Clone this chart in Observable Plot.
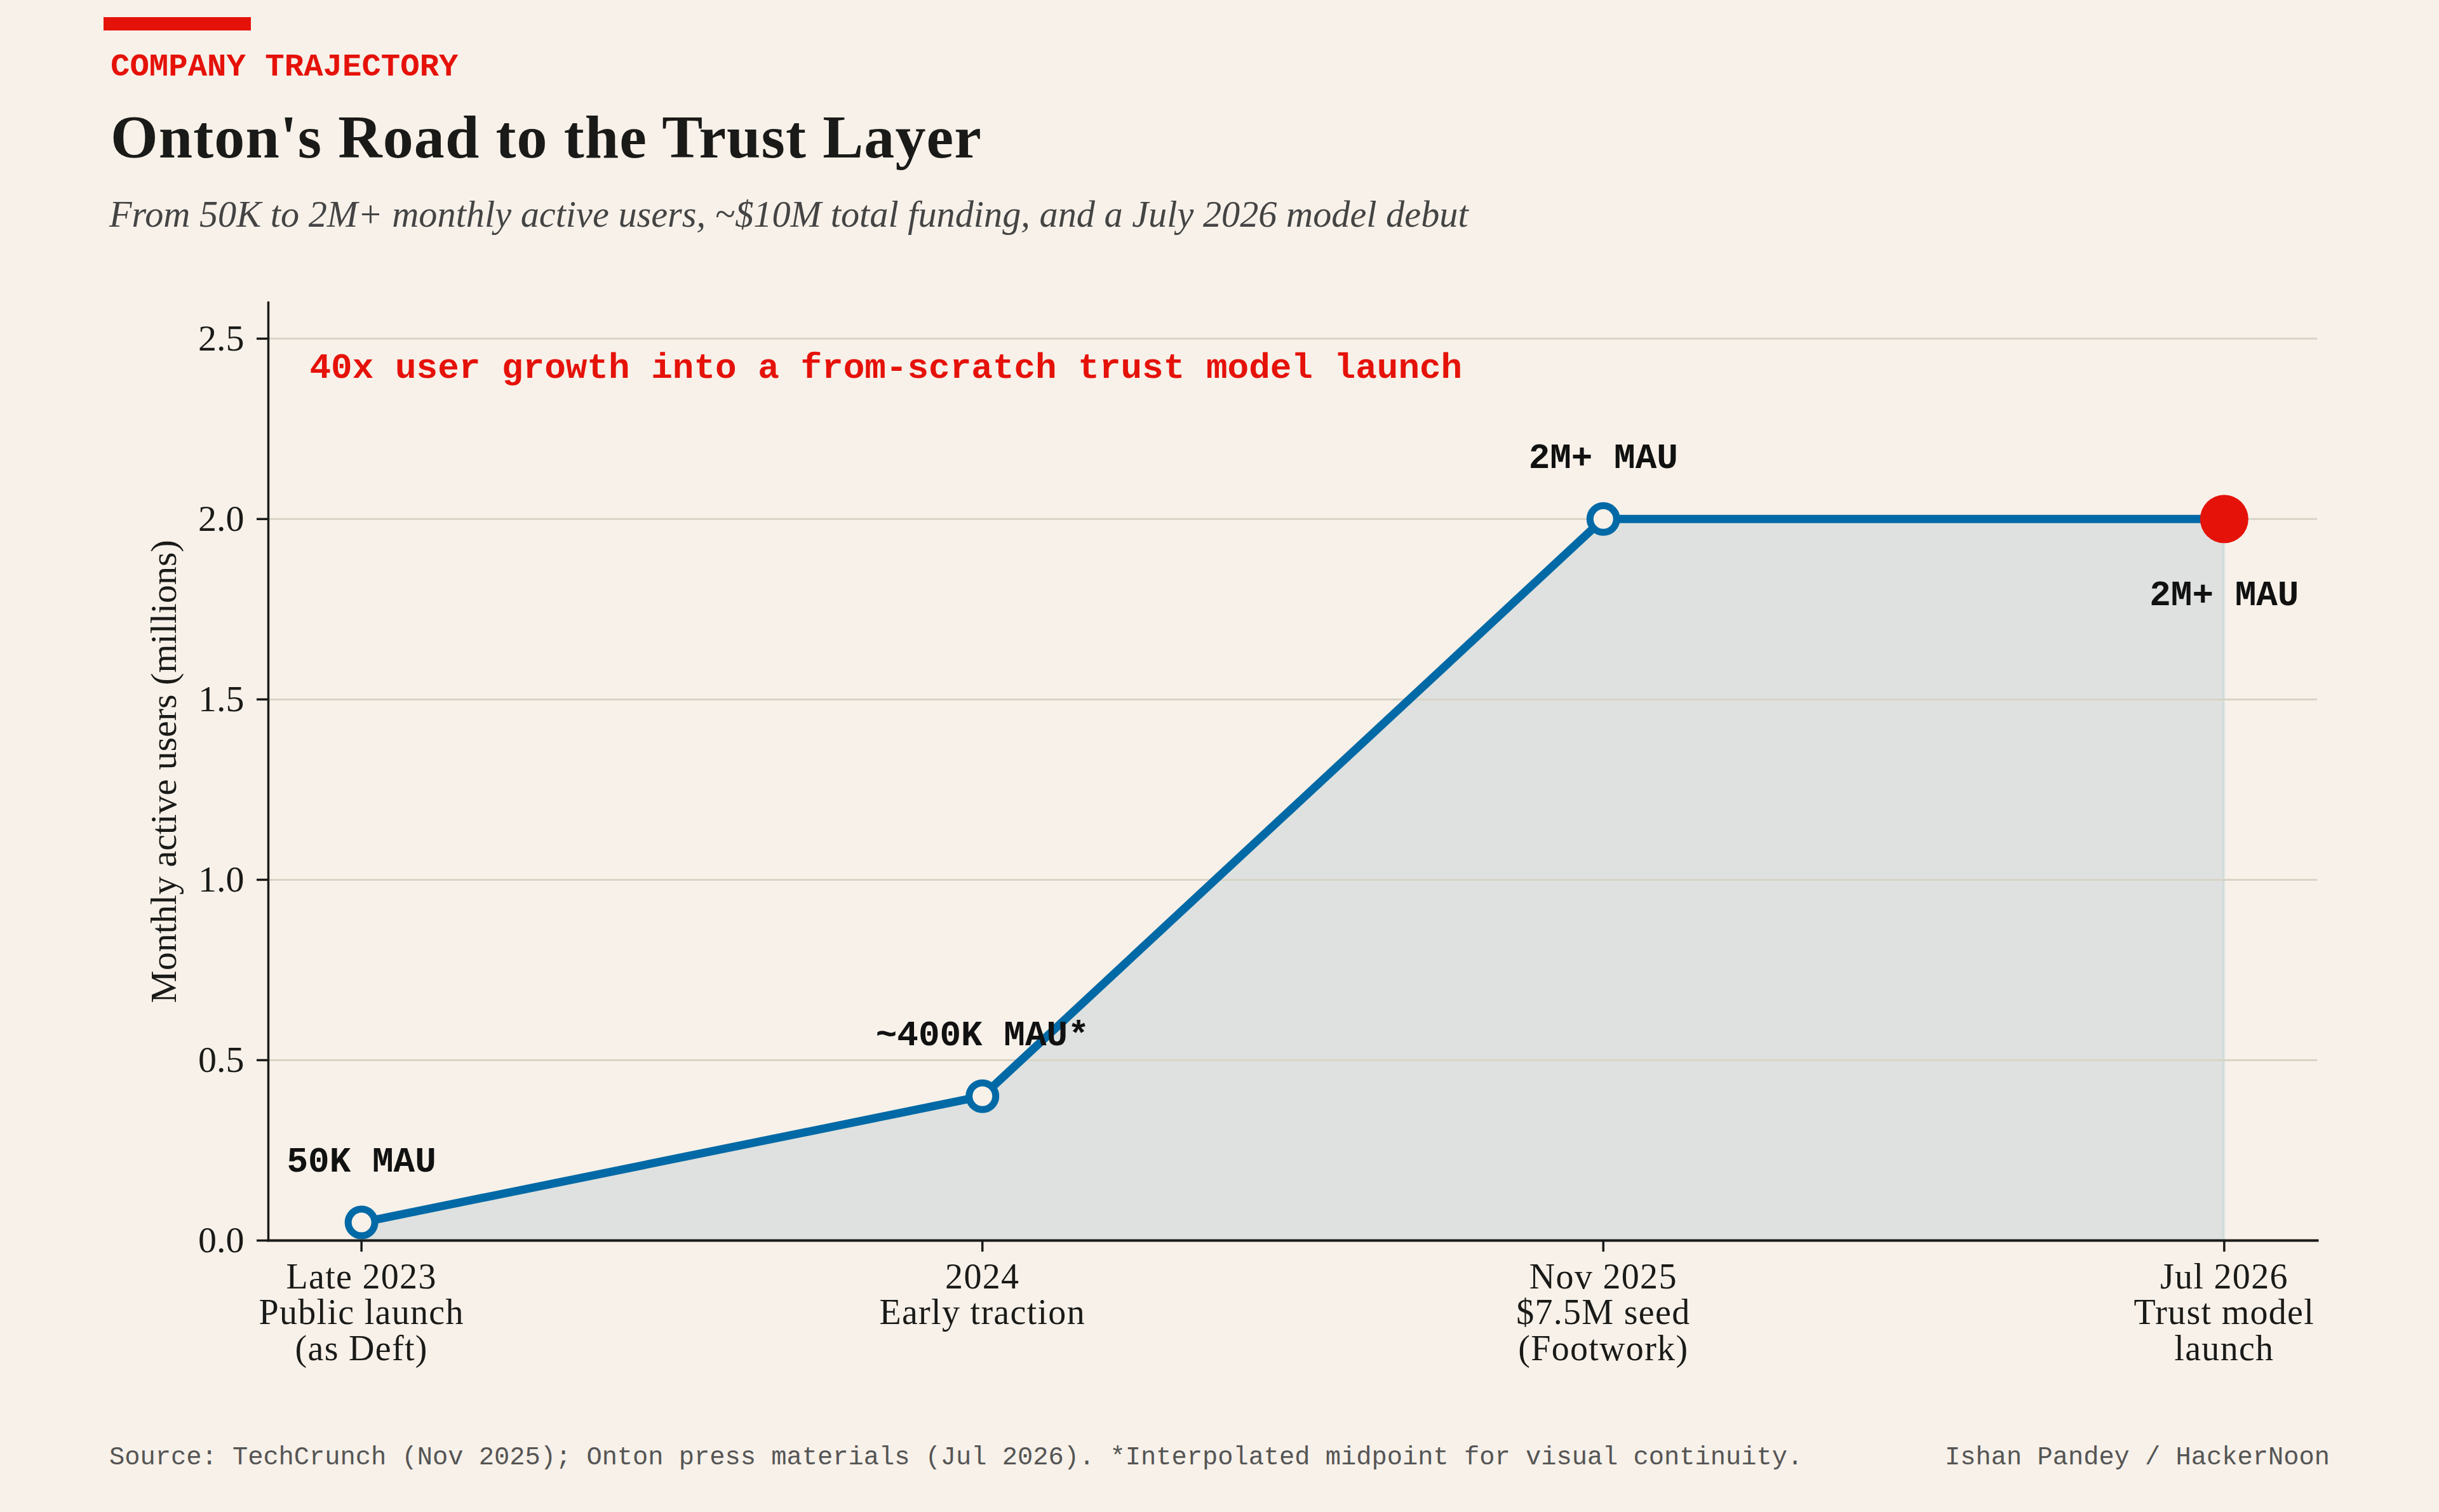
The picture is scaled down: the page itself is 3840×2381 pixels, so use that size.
<!DOCTYPE html>
<html><head><meta charset="utf-8">
<script src="https://cdn.jsdelivr.net/npm/d3@7"></script>
<script src="https://cdn.jsdelivr.net/npm/@observablehq/plot@0.6"></script>
<style>
html,body{margin:0;padding:0;background:#f7f1e9;}
#page{position:relative;width:3840px;height:2381px;overflow:hidden;}
#page svg{position:absolute;left:0;top:0;}
#page svg g[aria-label="x-axis tick label"] text{letter-spacing:1.3px;}
.t{position:absolute;white-space:pre;line-height:0;margin:0;font-weight:400;}
#bar{position:absolute;left:163px;top:27px;width:232px;height:21px;background:#e5120a;}
#eyebrow{left:174px;top:106px;font:700 50.7px/0 "Liberation Mono";color:#e5120a;}
#title{left:174px;top:216px;font:700 96px/0 "Liberation Serif";letter-spacing:1.1px;color:#1a1a18;}
#subtitle{left:172px;top:338px;font:italic 400 58.3px/0 "Liberation Serif";color:#444;}
#source{left:172px;top:2295px;font:400 40.4px/0 "Liberation Mono";color:#555;}
#credit{left:3062px;top:2295px;font:400 40.4px/0 "Liberation Mono";color:#555;}
</style></head>
<body><div id="page">
<div id="bar"></div>
<div class="t" id="eyebrow">COMPANY TRAJECTORY</div>
<h1 class="t" id="title">Onton's Road to the Trust Layer</h1>
<div class="t" id="subtitle">From 50K to 2M+ monthly active users, ~$10M total funding, and a July 2026 model debut</div>
<div class="t" id="source">Source: TechCrunch (Nov 2025); Onton press materials (Jul 2026). *Interpolated midpoint for visual continuity.</div>
<div class="t" id="credit">Ishan Pandey / HackerNoon</div>
</div>
<script>
const categories = ["Late 2023\nPublic launch\n(as Deft)", "2024\nEarly traction", "Nov 2025\n$7.5M seed\n(Footwork)", "Jul 2026\nTrust model\nlaunch"];
const mau = [0.05, 0.4, 2, 2];
const pointLabels = ["50K MAU", "~400K MAU*", "2M+ MAU", "2M+ MAU"];
const yTicks = [0, 0.5, 1, 1.5, 2, 2.5];
const annotation = "40x user growth into a from-scratch trust model launch";

const BLUE = "#0069a6", RED = "#e5120a", INK = "#1a1a18", BG = "#f7f1e9";
const SERIF = '"Liberation Serif"', MONO = '"Liberation Mono"';
const rows = categories.map((c, i) => ({cat: c, v: mau[i], label: pointLabels[i]}));
const early = rows.slice(0, 3), last = rows.slice(3);

const chart = Plot.plot({
  width: 3840, height: 2381,
  marginTop: 476, marginBottom: 428, marginLeft: 422, marginRight: 192,
  style: {background: "transparent", fontFamily: SERIF, color: INK, overflow: "visible"},
  x: {type: "point", domain: categories, padding: 0.15, round: false},
  y: {domain: [0, 2.6]},
  marks: [
    Plot.areaY(rows, {x: "cat", y: "v", fill: "#055a8c", fillOpacity: 0.1, stroke: BLUE, strokeOpacity: 0.08, strokeWidth: 4}),
    Plot.gridY(yTicks.slice(1), {stroke: "#d7d4c6", strokeOpacity: 1, strokeWidth: 3}),
    Plot.lineY(rows, {x: "cat", y: "v", stroke: BLUE, strokeWidth: 13, curve: "linear"}),
    Plot.dot(early, {x: "cat", y: "v", r: 21, fill: BG, stroke: BLUE, strokeWidth: 11}),
    Plot.dot(last, {x: "cat", y: "v", r: 38, fill: RED, stroke: "none"}),
    Plot.frame({anchor: "left", stroke: INK, strokeWidth: 3.5}),
    Plot.frame({anchor: "bottom", stroke: INK, strokeWidth: 4}),
    Plot.axisY({ticks: yTicks, tickFormat: ".1f", tickSize: 18, tickPadding: 20, strokeWidth: 3.5, fontSize: 58, fill: INK,
      label: "Monthly active users (millions)", labelAnchor: "center", labelArrow: "none", labelOffset: 187}),
    Plot.axisX({tickSize: 18, tickPadding: 17, strokeWidth: 3.5, fontSize: 56, lineHeight: 1.01, fill: INK, label: null}),
    Plot.text(early, {x: "cat", y: "v", text: "label", dy: -80, lineAnchor: "bottom", fontFamily: MONO, fontWeight: 700, fontSize: 56, fill: "#111"}),
    Plot.text(last, {x: "cat", y: "v", text: "label", dy: 136, lineAnchor: "bottom", fontFamily: MONO, fontWeight: 700, fontSize: 56, fill: "#111"}),
    Plot.text([annotation], {frameAnchor: "top-left", textAnchor: "start", lineAnchor: "bottom", dx: 65, dy: 118, fontFamily: MONO, fontWeight: 700, fontSize: 56, fill: RED})
  ]
});
document.getElementById("page").appendChild(chart);
</script>
</body></html>
